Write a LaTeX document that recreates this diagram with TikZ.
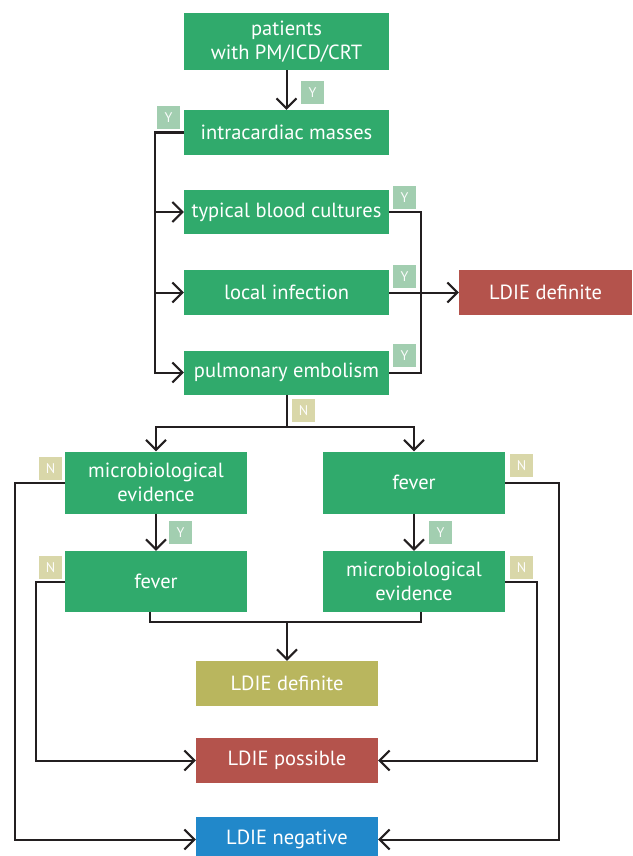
\documentclass[tikz,border=0pt]{standalone}
\usepackage{fontspec}
\setmainfont{PT Sans}
\usetikzlibrary{arrows.meta,calc}
\definecolor{boxgreen}{RGB}{48,170,108}
\definecolor{boxred}{RGB}{180,83,76}
\definecolor{boxolive}{RGB}{185,182,94}
\definecolor{boxblue}{RGB}{33,136,202}
\definecolor{ylab}{RGB}{162,206,176}
\definecolor{nlab}{RGB}{217,215,169}
\definecolor{linec}{RGB}{35,31,32}
\tikzset{
  box/.style={rectangle, fill=#1, text=white, inner sep=0pt, align=center,
    font=\fontsize{20.5}{24.5}\selectfont},
  wbox/.style={box=boxgreen, minimum width=205pt},
  nbox/.style={box=boxgreen, minimum width=182pt},
  yl/.style={rectangle, fill=ylab, text=white!95!ylab, minimum width=23pt, minimum height=23pt, inner sep=0pt, font=\fontsize{14}{14}\selectfont},
  nl/.style={yl, fill=nlab, text=white!95!nlab},
  conn/.style={draw=linec, line width=2pt},
  arr/.style={conn, -{Straight Barb[length=10pt,width=20pt]}}
}
\begin{document}
\begin{tikzpicture}[x=1pt,y=-1pt]
\useasboundingbox (0,0) rectangle (632,856);
\clip (0,0) rectangle (632,856);
% boxes
\node[wbox, minimum height=57pt] (pat) at (286.5,41.5) {patients\\with PM/ICD/CRT};
\node[wbox, minimum height=45pt] (intra) at (286.5,132.5) {intracardiac masses};
\node[wbox, minimum height=44pt] (blood) at (286.5,212) {typical blood cultures};
\node[wbox, minimum height=45pt] (local) at (286.5,292.5) {local infection};
\node[wbox, minimum height=44pt] (pulm) at (286.5,372.5) {pulmonary embolism};
\node[box=boxred, minimum width=173pt, minimum height=45pt] (defA) at (545.5,292.5) {LDIE definite};
\node[nbox, minimum height=62pt] (microL) at (156,482.5) {microbiological\\evidence};
\node[nbox, minimum height=62pt] (feverR) at (414,482.5) {fever};
\node[nbox, minimum height=61pt] (feverL) at (156,581.5) {fever};
\node[nbox, minimum height=61pt] (microR) at (414,581.5) {microbiological\\evidence};
\node[box=boxolive, minimum width=182pt, minimum height=45pt] (defB) at (287,683.5) {LDIE definite};
\node[box=boxred, minimum width=182pt, minimum height=45pt] (poss) at (287,760.5) {LDIE possible};
\node[box=boxblue, minimum width=182pt, minimum height=45pt] (neg) at (287,839.5) {LDIE negative};
% coordinates
\coordinate (lx) at (155,0);
\coordinate (rx) at (421,0);
\coordinate (split) at (286.5,427);
\coordinate (mj) at (287,622);
\coordinate (nlL) at (15,839.5);
\coordinate (plL) at (36,760.5);
\coordinate (nlR) at (559,839.5);
\coordinate (plR) at (537,760.5);
% connectors
\draw[arr] (pat.south) -- (intra.north);
\draw[arr] (intra.west) -| (lx |- pulm.west) -- (pulm.west);
\draw[arr] (lx |- blood.west) -- (blood.west);
\draw[arr] (lx |- local.west) -- (local.west);
\draw[conn] (blood.east) -| (rx |- pulm.east) -- (pulm.east);
\draw[arr] (local.east) -- (defA.west);
\draw[conn] (pulm.south) -- (split);
\draw[arr] (split) -| (microL.north);
\draw[arr] (split) -| (feverR.north);
\draw[arr] (microL.south) -- (feverL.north);
\draw[arr] (feverR.south) -- (microR.north);
\draw[arr] (microL.west) -| (nlL) -- (neg.west);
\draw[arr] (feverL.west) -| (plL) -- (poss.west);
\draw[arr] (feverR.east) -| (nlR) -- (neg.east);
\draw[arr] (microR.east) -| (plR) -- (poss.east);
\draw[conn] ([xshift=-6pt]feverL.south) |- (mj);
\draw[conn] ([xshift=7pt]microR.south) |- (mj);
\draw[arr] (mj) -- (defB.north);
% labels
\node[yl] (y1) at (312.5,92.5) {Y};
\node[yl] (y2) at (168.5,117.5) {Y};
\node[yl] (y3) at (404.5,197.5) {Y};
\node[yl] (y4) at (404.5,276.5) {Y};
\node[yl] (y5) at (404.5,355.5) {Y};
\node[nl] (n1) at (303.5,410.5) {N};
\node[nl] (n2) at (50.5,468.5) {N};
\node[yl] (y6) at (180.5,532.5) {Y};
\node[nl] (n3) at (50.5,567.5) {N};
\node[nl] (n4) at (521.5,465.5) {N};
\node[yl] (y7) at (440.5,532.5) {Y};
\node[nl] (n5) at (521.5,567.5) {N};
\end{tikzpicture}
\end{document}
